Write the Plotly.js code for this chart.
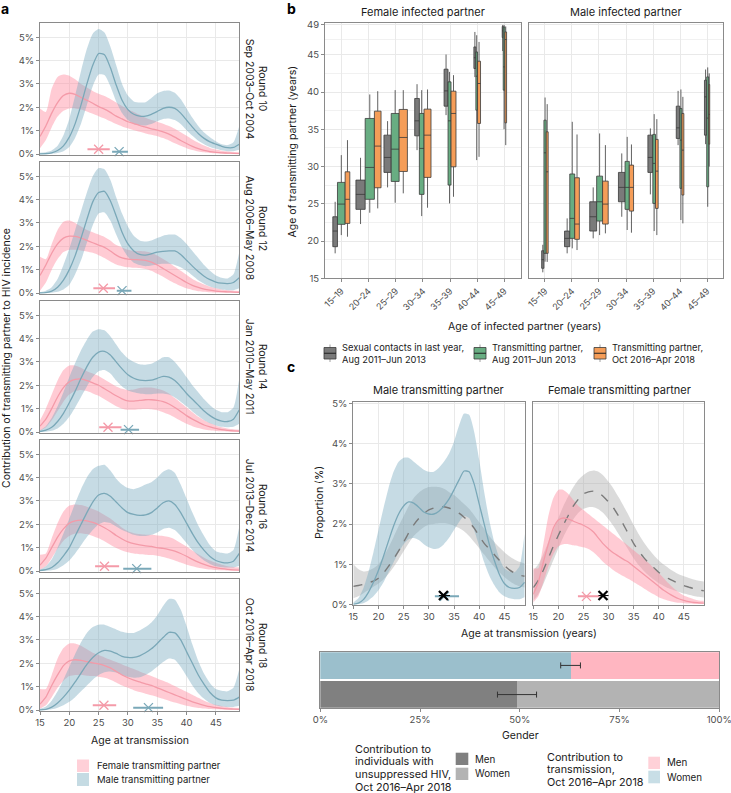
<!DOCTYPE html>
<html><head><meta charset="utf-8">
<script src="https://cdn.plot.ly/plotly-3.0.1.min.js"></script>
<style>html,body{margin:0;padding:0;background:#fff}</style>
</head><body><div id="chart" style="width:731px;height:793px"></div>
<script>
// ---------------- DATA ----------------
const AGES=[15,16,17,18,19,20,21,22,23,24,25,26,27,28,29,30,31,32,33,34,35,36,37,38,39,40,41,42,43,44,45,46,47,48,49];
const ROUNDS=['Round 10','Round 12','Round 14','Round 16','Round 18'];
const PERIODS=['Sep 2003–Oct 2004','Aug 2006–May 2008','Jan 2010–May 2011','Jul 2013–Dec 2014','Oct 2016–Apr 2018'];

// Panel a: contribution (%) by age, female (F) and male (M) transmitting partners
const r10F_lo=[0.25,0.6,1.15,1.6,1.85,1.95,1.95,1.9,1.82,1.72,1.62,1.52,1.4,1.28,1.18,1.1,1.02,0.95,0.88,0.82,0.76,0.68,0.58,0.46,0.35,0.25,0.17,0.11,0.07,0.04,0.03,0.02,0.01,0.01,0.01];
const r10F_mid=[0.75,1.2,1.75,2.2,2.5,2.6,2.55,2.42,2.3,2.17,2.03,1.92,1.78,1.62,1.5,1.38,1.3,1.22,1.15,1.08,1.02,0.95,0.85,0.72,0.58,0.45,0.33,0.23,0.15,0.1,0.07,0.05,0.04,0.03,0.02];
const r10F_hi=[1.95,1.8,2.8,3.3,3.4,3.35,3.2,3.0,2.85,2.7,2.58,2.48,2.35,2.2,2.05,1.9,1.8,1.68,1.55,1.45,1.38,1.3,1.2,1.08,0.93,0.78,0.62,0.48,0.36,0.26,0.19,0.14,0.11,0.09,0.08];
const r10M_lo=[0,0,0.01,0.04,0.12,0.3,0.7,1.3,2.1,2.9,3.4,3.38,2.9,2.25,1.75,1.45,1.28,1.22,1.22,1.28,1.4,1.5,1.52,1.45,1.28,1.02,0.78,0.57,0.42,0.3,0.22,0.16,0.12,0.12,0.18];
const r10M_mid=[0,0.01,0.05,0.15,0.35,0.72,1.3,2.1,3.0,3.8,4.3,4.25,3.7,2.95,2.3,1.9,1.7,1.62,1.62,1.7,1.82,1.95,2.0,1.95,1.75,1.45,1.15,0.88,0.67,0.52,0.42,0.33,0.27,0.28,0.42];
const r10M_hi=[0.05,0.08,0.15,0.35,0.8,1.5,2.5,3.55,4.5,5.15,5.35,5.2,4.6,3.8,3.0,2.5,2.25,2.2,2.22,2.4,2.6,2.7,2.72,2.62,2.35,1.95,1.55,1.2,0.92,0.72,0.55,0.42,0.38,0.5,1.2];

const r12F_lo=[0.1,0.45,1.0,1.45,1.75,1.85,1.85,1.82,1.78,1.72,1.62,1.5,1.35,1.22,1.15,1.1,1.08,1.07,1.03,0.95,0.82,0.7,0.55,0.42,0.3,0.2,0.13,0.08,0.05,0.03,0.02,0.02,0.01,0.01,0.01];
const r12F_mid=[0.75,1.2,1.7,2.1,2.35,2.43,2.42,2.35,2.25,2.15,2.05,1.95,1.8,1.62,1.5,1.45,1.43,1.42,1.4,1.32,1.2,1.05,0.9,0.75,0.6,0.45,0.33,0.24,0.17,0.12,0.08,0.06,0.05,0.04,0.03];
const r12F_hi=[1.55,1.45,2.1,2.7,3.05,3.1,3.0,2.85,2.7,2.6,2.5,2.4,2.25,2.05,1.95,1.85,1.8,1.8,1.78,1.72,1.6,1.45,1.3,1.12,0.95,0.78,0.6,0.47,0.36,0.27,0.2,0.15,0.12,0.1,0.09];
const r12M_lo=[0,0,0.01,0.05,0.15,0.35,0.8,1.4,2.15,2.9,3.4,3.45,3.1,2.5,1.95,1.55,1.3,1.2,1.15,1.18,1.22,1.25,1.25,1.2,1.1,0.95,0.75,0.55,0.4,0.28,0.2,0.15,0.12,0.12,0.2];
const r12M_mid=[0,0.02,0.08,0.25,0.55,1.0,1.6,2.35,3.15,3.9,4.3,4.35,3.95,3.3,2.6,2.1,1.8,1.65,1.62,1.68,1.75,1.78,1.8,1.8,1.65,1.4,1.15,0.92,0.72,0.57,0.47,0.42,0.4,0.45,0.65];
const r12M_hi=[0.03,0.1,0.25,0.6,1.2,1.9,2.7,3.5,4.3,5.0,5.35,5.3,4.85,4.1,3.4,2.85,2.45,2.25,2.2,2.25,2.35,2.45,2.5,2.5,2.35,2.1,1.8,1.5,1.2,0.95,0.75,0.65,0.62,0.8,1.75];

const r14F_lo=[0.05,0.2,0.5,0.9,1.3,1.6,1.75,1.8,1.75,1.65,1.55,1.4,1.25,1.1,1.0,0.95,0.95,0.97,0.98,0.97,0.93,0.85,0.75,0.62,0.48,0.35,0.25,0.17,0.11,0.07,0.04,0.03,0.02,0.01,0.01];
const r14F_mid=[0.25,0.55,1.0,1.5,1.9,2.15,2.25,2.27,2.2,2.1,2.0,1.85,1.7,1.55,1.42,1.33,1.32,1.35,1.38,1.38,1.35,1.3,1.2,1.05,0.88,0.7,0.55,0.42,0.3,0.22,0.15,0.1,0.07,0.05,0.04];
const r14F_hi=[0.5,1.0,1.6,2.2,2.65,2.85,2.85,2.75,2.6,2.5,2.4,2.25,2.1,1.95,1.85,1.8,1.82,1.88,1.9,1.9,1.85,1.78,1.65,1.45,1.25,1.05,0.85,0.65,0.5,0.38,0.28,0.2,0.15,0.12,0.1];
const r14M_lo=[0,0.01,0.05,0.15,0.35,0.65,1.05,1.5,1.95,2.35,2.6,2.65,2.5,2.2,1.95,1.78,1.7,1.65,1.62,1.62,1.65,1.65,1.6,1.48,1.3,1.1,0.88,0.68,0.5,0.37,0.28,0.22,0.2,0.22,0.35];
const r14M_mid=[0.02,0.08,0.2,0.45,0.8,1.25,1.75,2.3,2.8,3.2,3.42,3.45,3.3,3.0,2.7,2.45,2.3,2.22,2.2,2.22,2.3,2.38,2.35,2.2,1.95,1.65,1.4,1.15,0.9,0.7,0.55,0.47,0.45,0.55,0.95];
const r14M_hi=[0.08,0.25,0.6,1.1,1.7,2.35,2.95,3.5,3.95,4.3,4.4,4.35,4.1,3.75,3.4,3.15,3.0,2.9,2.88,2.92,3.05,3.2,3.2,3.0,2.7,2.35,2.0,1.7,1.4,1.15,0.95,0.85,0.85,1.05,2.3];

const r16F_lo=[0.05,0.2,0.55,0.95,1.3,1.5,1.6,1.62,1.58,1.5,1.4,1.27,1.12,0.98,0.88,0.8,0.75,0.72,0.7,0.68,0.65,0.6,0.53,0.45,0.36,0.27,0.2,0.14,0.1,0.06,0.04,0.03,0.02,0.01,0.01];
const r16F_mid=[0.25,0.55,1.0,1.45,1.8,2.05,2.15,2.18,2.15,2.08,1.98,1.85,1.7,1.52,1.37,1.25,1.17,1.12,1.08,1.05,1.0,0.97,0.92,0.85,0.75,0.63,0.5,0.38,0.28,0.2,0.14,0.1,0.07,0.05,0.04];
const r16F_hi=[0.7,0.75,1.4,2.05,2.55,2.8,2.85,2.82,2.75,2.65,2.55,2.4,2.25,2.05,1.85,1.7,1.62,1.58,1.55,1.55,1.52,1.5,1.45,1.35,1.2,1.05,0.88,0.72,0.57,0.45,0.35,0.27,0.2,0.17,0.15];
const r16M_lo=[0,0.01,0.03,0.1,0.25,0.45,0.75,1.1,1.45,1.75,2.0,2.1,2.05,1.9,1.75,1.65,1.55,1.5,1.5,1.55,1.65,1.8,1.85,1.75,1.5,1.2,0.9,0.65,0.45,0.3,0.2,0.16,0.15,0.15,0.22];
const r16M_mid=[0.02,0.06,0.15,0.35,0.65,1.0,1.5,2.0,2.5,2.95,3.25,3.32,3.2,2.95,2.7,2.5,2.42,2.38,2.4,2.5,2.7,2.92,3.0,2.85,2.5,2.05,1.6,1.2,0.88,0.62,0.45,0.37,0.35,0.42,0.75];
const r16M_hi=[0.05,0.2,0.5,1.0,1.6,2.25,2.9,3.5,4.0,4.35,4.5,4.55,4.3,3.95,3.7,3.55,3.5,3.58,3.7,3.8,4.0,4.25,4.35,4.2,3.7,3.1,2.5,1.95,1.5,1.1,0.85,0.78,0.75,0.9,1.9];

const r18F_lo=[0.05,0.2,0.55,0.95,1.25,1.45,1.5,1.5,1.47,1.45,1.42,1.38,1.3,1.18,1.05,0.95,0.85,0.77,0.7,0.63,0.56,0.48,0.4,0.32,0.25,0.18,0.13,0.09,0.06,0.04,0.03,0.02,0.01,0.01,0.01];
const r18F_mid=[0.25,0.55,1.05,1.5,1.9,2.1,2.15,2.12,2.07,2.02,1.97,1.9,1.8,1.65,1.5,1.38,1.28,1.2,1.12,1.05,0.95,0.85,0.75,0.65,0.55,0.45,0.35,0.27,0.2,0.14,0.1,0.07,0.05,0.04,0.03];
const r18F_hi=[0.9,0.9,1.5,2.2,2.65,2.85,2.85,2.75,2.6,2.45,2.35,2.25,2.15,2.05,1.95,1.85,1.75,1.65,1.55,1.45,1.35,1.25,1.15,1.03,0.9,0.78,0.65,0.52,0.4,0.3,0.22,0.17,0.13,0.1,0.09];
const r18M_lo=[0,0.01,0.03,0.1,0.2,0.35,0.55,0.8,1.05,1.3,1.5,1.62,1.65,1.6,1.5,1.42,1.38,1.4,1.5,1.65,1.85,2.05,2.2,2.15,1.85,1.45,1.05,0.72,0.48,0.3,0.2,0.15,0.13,0.13,0.18];
const r18M_mid=[0,0.03,0.12,0.3,0.55,0.85,1.2,1.58,1.95,2.25,2.45,2.55,2.52,2.42,2.3,2.25,2.25,2.32,2.45,2.62,2.85,3.1,3.32,3.3,3.0,2.5,2.0,1.5,1.1,0.75,0.52,0.42,0.4,0.42,0.55];
const r18M_hi=[0.05,0.15,0.4,0.8,1.3,1.85,2.4,2.9,3.3,3.55,3.65,3.65,3.55,3.45,3.35,3.3,3.3,3.4,3.55,3.75,4.05,4.45,4.75,4.72,4.3,3.6,2.8,2.1,1.55,1.15,0.9,0.82,0.8,0.95,1.75];

// median age at transmission (x) with 95% interval, per round
const medAgeF=[25.0,25.8,26.6,26.0,25.9];
const medAgeF_lo=[23.1,24.1,25.1,24.4,24.0];
const medAgeF_hi=[26.9,27.8,28.9,28.5,28.0];
const medAgeM=[28.5,29.0,30.1,31.5,33.5];
const medAgeM_lo=[27.3,28.1,28.75,29.2,30.9];
const medAgeM_hi=[30.0,30.6,31.9,34.0,36.0];

// Panel b: box statistics by age group of infected partner
const AGE_GROUPS=['15–19','20–24','25–29','30–34','35–39','40–44','45–49'];
const SERIES_NAMES=['Sexual contacts in last year,<br>Aug 2011–Jun 2013','Transmitting partner,<br>Aug 2011–Jun 2013','Transmitting partner,<br>Oct 2016–Apr 2018'];
// female infected partner
const fContact_lo=[18.35,22.28,27.2,32.2,36.9,42.0,45.5];
const fContact_q1=[19.24,24.25,29.21,34.12,38.1,43.15,47.3];
const fContact_med=[21.34,26.26,31.22,36.13,40.15,44.6,48.2];
const fContact_q3=[23.26,28.18,34.21,39.13,43.06,46.05,48.8];
const fContact_hi=[25.27,31.17,36.09,41.05,45.03,48.06,49.0];
const fContact_n=[255,1000,616,255,185,46,12];
const fTrans13_lo=[20.8,23.8,25.14,23.35,25.05,30.86,35.0];
const fTrans13_q1=[22.24,25.6,28.0,26.26,27.51,37.56,40.25];
const fTrans13_med=[24.96,29.88,32.33,32.43,36.13,42.12,43.37];
const fTrans13_q3=[27.87,36.45,37.12,37.12,41.36,45.38,48.73];
const fTrans13_hi=[31.53,39.67,40.25,40.25,42.7,47.62,49.0];
const fTrans13_n=[686,1000,740,255,104,33,33];
const fTrans18_lo=[20.58,24.38,26.4,24.47,25.94,31.3,32.87];
const fTrans18_q1=[22.37,27.15,29.34,28.54,29.96,35.78,35.86];
const fTrans18_med=[25.6,32.74,33.9,34.21,37.12,41.14,47.04];
const fTrans18_q3=[29.29,37.43,37.66,37.7,40.11,44.13,48.06];
const fTrans18_hi=[33.54,40.11,40.25,40.34,42.26,46.72,48.8];
const fTrans18_n=[255,519,797,567,289,104,33];
// male infected partner
const mContact_lo=[15.8,18.35,20.36,23.26,26.26,32.87,33.0];
const mContact_q1=[16.34,19.24,21.34,25.27,29.21,33.77,34.21];
const mContact_med=[17.5,20.36,23.26,27.2,31.22,35.19,39.35];
const mContact_q3=[18.7,21.34,25.27,29.21,34.21,38.1,41.58];
const mContact_hi=[19.5,23.04,27.2,31.76,35.11,40.15,43.02];
const mContact_n=[61,325,567,519,289,158,61];
const mTrans13_lo=[17.23,19.02,20.8,21.48,21.34,22.82,24.6];
const mTrans13_q1=[18.35,20.36,22.68,24.25,25.05,27.07,27.28];
const mTrans13_med=[31.84,23.04,25.27,27.2,30.42,33.54,36.5];
const mTrans13_q3=[36.22,29.0,28.71,30.69,34.31,37.79,42.03];
const mTrans13_hi=[39.26,36.0,34.44,33.98,37.03,40.34,43.3];
const mTrans13_n=[61,289,416,214,84,46,46];
const mTrans18_lo=[17.2,18.79,21.03,21.12,20.8,22.37,30.0];
const mTrans18_q1=[18.35,20.23,22.28,24.02,24.38,26.17,33.0];
const mTrans18_med=[29.29,22.28,24.96,27.2,29.38,32.2,37.0];
const mTrans18_q3=[34.66,28.49,28.04,30.19,33.64,37.12,41.0];
const mTrans18_hi=[38.37,34.3,32.87,32.96,36.36,39.35,42.5];
const mTrans18_n=[46,255,376,214,84,46,12];

// Panel c: unsuppressed-HIV age distributions (grey), transmitting = round 18 curves
const unsupM_lo=[0.15,0.2,0.28,0.36,0.44,0.52,0.62,0.76,0.93,1.12,1.32,1.52,1.7,1.82,1.92,1.98,2.0,2.02,2.02,2.0,1.96,1.9,1.82,1.7,1.55,1.4,1.24,1.08,0.93,0.8,0.68,0.58,0.5,0.45,0.42];
const unsupM_mid=[0.45,0.47,0.5,0.54,0.58,0.65,0.78,0.95,1.13,1.33,1.55,1.78,1.98,2.14,2.26,2.35,2.4,2.43,2.43,2.4,2.35,2.27,2.17,2.05,1.9,1.7,1.52,1.38,1.24,1.1,0.97,0.86,0.78,0.73,0.7];
const unsupM_hi=[1.0,0.88,0.82,0.84,0.9,1.0,1.18,1.42,1.68,1.95,2.2,2.45,2.65,2.78,2.87,2.92,2.93,2.92,2.88,2.8,2.72,2.62,2.5,2.38,2.22,2.05,1.88,1.7,1.55,1.42,1.3,1.2,1.12,1.06,1.02];
const unsupF_lo=[0.1,0.25,0.5,0.8,1.1,1.4,1.68,1.92,2.12,2.28,2.38,2.42,2.42,2.37,2.27,2.12,1.95,1.75,1.55,1.35,1.15,0.98,0.84,0.72,0.62,0.53,0.46,0.4,0.35,0.31,0.27,0.24,0.21,0.19,0.17];
const unsupF_mid=[0.42,0.6,0.85,1.15,1.45,1.72,1.98,2.22,2.45,2.62,2.75,2.8,2.82,2.78,2.68,2.55,2.4,2.2,1.98,1.75,1.52,1.33,1.17,1.03,0.92,0.8,0.71,0.64,0.58,0.52,0.47,0.43,0.39,0.36,0.34];
const unsupF_hi=[0.85,1.0,1.25,1.55,1.85,2.15,2.45,2.7,2.92,3.1,3.22,3.3,3.33,3.3,3.2,3.05,2.88,2.67,2.45,2.22,1.98,1.75,1.55,1.38,1.23,1.1,0.99,0.9,0.82,0.75,0.7,0.66,0.62,0.59,0.57];
// median ages [transmitting, unsuppressed] with intervals
const cMedM=[33.1,32.9], cMedM_lo=[31.2,32.0], cMedM_hi=[36.0,34.2];
const cMedF=[25.6,28.9], cMedF_lo=[23.9,28.0], cMedF_hi=[28.2,30.0];

// Gender bars (%)
const transShare=[62.75,37.25];      // blue, pink
const transShareCI=[60.25,65.2];
const unsupShare=[49.3,50.7];        // men, women
const unsupShareCI=[44.4,54.2];

// ---------------- LAYOUT HELPERS ----------------
const W=731,H=793;
const fx=v=>v/W, fy=v=>1-v/H;
const FONT='Inter, "Liberation Sans", Arial, sans-serif';
const TXT='#1a1a1a';
const PINK_FILL='rgba(255,140,160,0.45)', PINK_LINE='#f49aa8';
const BLUE_FILL='rgba(120,170,190,0.42)', BLUE_LINE='#7aa8b8';
const GREY_FILL='rgba(165,165,165,0.4)';

const layout={width:W,height:H,margin:{l:0,r:0,t:0,b:0},paper_bgcolor:'#fff',plot_bgcolor:'#fff',
  showlegend:false,boxmode:'overlay',barmode:'stack',annotations:[],shapes:[],font:{family:FONT,color:TXT}};
function base(){return {showline:true,mirror:true,linecolor:'#8a8a8a',linewidth:1,showgrid:true,gridcolor:'#e9e9e9',gridwidth:1,
  zeroline:false,ticks:'outside',ticklen:3,tickwidth:1,tickcolor:'#8a8a8a',tickfont:{family:FONT,size:9.5,color:'#4d4d4d'},fixedrange:true,
  ticklabeloverflow:'allow'};}
const sfx=i=>i===1?'':String(i);
function setAxes(i,x0,x1,y0,y1,xo,yo){
  const s=sfx(i);
  layout['xaxis'+s]=Object.assign(base(),{domain:[fx(x0),fx(x1)],anchor:'y'+s},xo);
  layout['yaxis'+s]=Object.assign(base(),{domain:[fy(y1),fy(y0)],anchor:'x'+s},yo);
}
function T(text,x,y,o){layout.annotations.push(Object.assign({text:text,x:fx(x),y:fy(y),xref:'paper',yref:'paper',showarrow:false,
  xanchor:'center',yanchor:'middle',font:{family:FONT,size:10.5,color:TXT}},o||{}));}
function R(x0,y0,x1,y1,fill,line){layout.shapes.push({type:'rect',xref:'paper',yref:'paper',x0:fx(x0),x1:fx(x1),y0:fy(y1),y1:fy(y0),
  fillcolor:fill,line:line||{width:0}});}
function L(x0,y0,x1,y1,color,w){layout.shapes.push({type:'line',xref:'paper',yref:'paper',x0:fx(x0),x1:fx(x1),y0:fy(y0),y1:fy(y1),line:{color:color,width:w}});}

const traces=[];
function band(ax,lo,hi,fill){
  const s=sfx(ax);
  traces.push({type:'scatter',x:AGES,y:lo,mode:'lines',line:{width:0,shape:'spline',smoothing:0.6},xaxis:'x'+s,yaxis:'y'+s,hoverinfo:'skip'});
  traces.push({type:'scatter',x:AGES,y:hi,mode:'lines',line:{width:0,shape:'spline',smoothing:0.6},fill:'tonexty',fillcolor:fill,xaxis:'x'+s,yaxis:'y'+s,hoverinfo:'skip'});
}
function curve(ax,y,color,dash,w){
  const s=sfx(ax);
  traces.push({type:'scatter',x:AGES,y:y,mode:'lines',line:{width:w||1.3,color:color,dash:dash||'solid',shape:'spline',smoothing:0.6},xaxis:'x'+s,yaxis:'y'+s,hoverinfo:'skip'});
}
function mark(ax,med,lo,hi,yv,color,lw,barw){
  const s=sfx(ax);
  traces.push({type:'scatter',x:[med],y:[yv],mode:'markers',marker:{symbol:'x-thin',size:9,color:color,line:{width:lw,color:color}},
    error_x:{type:'data',symmetric:false,array:[hi-med],arrayminus:[med-lo],color:color,thickness:barw,width:0},
    xaxis:'x'+s,yaxis:'y'+s,hoverinfo:'skip',cliponaxis:false});
}

// ---------------- PANEL a ----------------
const A_F=[[r10F_lo,r10F_mid,r10F_hi],[r12F_lo,r12F_mid,r12F_hi],[r14F_lo,r14F_mid,r14F_hi],[r16F_lo,r16F_mid,r16F_hi],[r18F_lo,r18F_mid,r18F_hi]];
const A_M=[[r10M_lo,r10M_mid,r10M_hi],[r12M_lo,r12M_mid,r12M_hi],[r14M_lo,r14M_mid,r14M_hi],[r16M_lo,r16M_mid,r16M_hi],[r18M_lo,r18M_mid,r18M_hi]];
const aTop=22.7, aH=132, aGap=7;
for(let r=0;r<5;r++){
  const ax=r+1, t=aTop+r*(aH+aGap), b=t+aH, last=r===4;
  setAxes(ax,40,239.3,t,b,
    {range:[15,49],tickvals:[15,20,25,30,35,40,45],showticklabels:last,ticks:last?'outside':''},
    {range:[-0.03,5.62],tickvals:[0,1,2,3,4,5],ticktext:['0%','1%','2%','3%','4%','5%']});
  band(ax,A_F[r][0],A_F[r][2],PINK_FILL);
  band(ax,A_M[r][0],A_M[r][2],BLUE_FILL);
  curve(ax,A_F[r][1],PINK_LINE);
  curve(ax,A_M[r][1],BLUE_LINE);
  mark(ax,medAgeF[r],medAgeF_lo[r],medAgeF_hi[r],0.2,PINK_LINE,1.3,2);
  mark(ax,medAgeM[r],medAgeM_lo[r],medAgeM_hi[r],0.1,BLUE_LINE,1.3,2);
  const cy=(t+b)/2;
  T(PERIODS[r],249,cy,{textangle:90,font:{family:FONT,size:10.5,color:TXT}});
  T(ROUNDS[r],262,cy,{textangle:90,font:{family:FONT,size:10.5,color:TXT}});
}
T('Contribution of transmitting partner to HIV incidence',6,358,{textangle:-90,font:{family:FONT,size:10.5,color:TXT}});
T('Age at transmission',140,740,{font:{family:FONT,size:10.5,color:TXT}});
R(77,759.5,89,772,'#ffd0d8');
R(77,773,89,786,'#c5dbe3');
T('Female transmitting partner',95,765.5,{xanchor:'left',font:{family:FONT,size:9.5,color:TXT}});
T('Male transmitting partner',95,779.5,{xanchor:'left',font:{family:FONT,size:9.5,color:TXT}});
T('<b>a</b>',5,9,{font:{family:FONT,size:14,color:'#000'}});

// ---------------- PANEL b ----------------
const BOX_COLORS=['#7a7a7a','#68ad82','#f59d58'];
const B_F=[[fContact_lo,fContact_q1,fContact_med,fContact_q3,fContact_hi,fContact_n],
           [fTrans13_lo,fTrans13_q1,fTrans13_med,fTrans13_q3,fTrans13_hi,fTrans13_n],
           [fTrans18_lo,fTrans18_q1,fTrans18_med,fTrans18_q3,fTrans18_hi,fTrans18_n]];
const B_M=[[mContact_lo,mContact_q1,mContact_med,mContact_q3,mContact_hi,mContact_n],
           [mTrans13_lo,mTrans13_q1,mTrans13_med,mTrans13_q3,mTrans13_hi,mTrans13_n],
           [mTrans18_lo,mTrans18_q1,mTrans18_med,mTrans18_q3,mTrans18_hi,mTrans18_n]];
const NMAX=1000, BW=0.34;
function boxPanel(ax,B){
  const s=sfx(ax);
  for(let c=0;c<AGE_GROUPS.length;c++){
    const ws=B.map(S=>BW*Math.sqrt(S[5][c]/NMAX));
    const tot=ws.reduce((a,b)=>a+b,0);
    let start=c-tot/2;
    B.forEach((S,k)=>{
      const w=ws[k], xc=start+w/2; start+=w;
      traces.push({type:'box',x:[xc],lowerfence:[S[0][c]],q1:[S[1][c]],median:[S[2][c]],q3:[S[3][c]],upperfence:[S[4][c]],
        width:w,fillcolor:BOX_COLORS[k],line:{color:'#3a3a3a',width:0.8},whiskerwidth:0,boxpoints:false,
        xaxis:'x'+s,yaxis:'y'+s,hoverinfo:'skip'});
    });
  }
}
const bY={range:[15,49.3],tickvals:[15,20,25,30,35,40,45,49],
  minor:{tickvals:[17.5,22.5,27.5,32.5,37.5,42.5,47],showgrid:true,gridcolor:'#f1f1f1',ticks:''}};
const bX={range:[-0.6,6.6],tickvals:[0,1,2,3,4,5,6],ticktext:AGE_GROUPS,tickangle:-45,tickfont:{family:FONT,size:9,color:'#4d4d4d'}};
setAxes(6,325,520.7,22.7,278.3,bX,bY);
setAxes(7,528.7,723.3,22.7,278.3,bX,Object.assign({},bY,{showticklabels:false,ticks:''}));
boxPanel(6,B_F);
boxPanel(7,B_M);
T('<b>b</b>',291,9,{font:{family:FONT,size:14,color:'#000'}});
T('Female infected partner',422.8,12,{font:{family:FONT,size:11,color:TXT}});
T('Male infected partner',626,12,{font:{family:FONT,size:11,color:TXT}});
T('Age of transmitting partner (years)',292.5,152,{textangle:-90,font:{family:FONT,size:10.5,color:TXT}});
T('Age of infected partner (years)',524,326,{font:{family:FONT,size:10.5,color:TXT}});
[324,474,594].forEach((sx,k)=>{
  L(sx+6,344.5,sx+6,362,'#8a8a8a',0.8);
  R(sx,347.5,sx+12,359,BOX_COLORS[k],{color:'#3a3a3a',width:0.8});
  L(sx,353.25,sx+12,353.25,'#222',1);
  T(SERIES_NAMES[k],sx+16.5,353.5,{xanchor:'left',align:'left',borderpad:0,font:{family:FONT,size:9.3,color:TXT}});
});

// ---------------- PANEL c ----------------
const cX={range:[15,49.1],tickvals:[15,20,25,30,35,40,45]};
const cY={range:[-0.01,5.05],tickvals:[0,1,2,3,4,5],ticktext:['0%','1%','2%','3%','4%','5%']};
setAxes(8,353.3,525,401.5,604.8,cX,cY);
setAxes(9,533.3,704.3,401.5,604.8,cX,Object.assign({},cY,{showticklabels:false,ticks:''}));
band(8,unsupM_lo,unsupM_hi,GREY_FILL);
band(8,r18M_lo,r18M_hi,BLUE_FILL);
curve(8,unsupM_mid,'#7a7a7a','dash',1.4);
curve(8,r18M_mid,BLUE_LINE);
mark(8,cMedM[0],cMedM_lo[0],cMedM_hi[0],0.2,BLUE_LINE,1.3,2);
mark(8,cMedM[1],cMedM_lo[1],cMedM_hi[1],0.22,'#000',2.2,1);
band(9,unsupF_lo,unsupF_hi,GREY_FILL);
band(9,r18F_lo,r18F_hi,PINK_FILL);
curve(9,unsupF_mid,'#7a7a7a','dash',1.4);
curve(9,r18F_mid,PINK_LINE);
mark(9,cMedF[0],cMedF_lo[0],cMedF_hi[0],0.2,PINK_LINE,1.3,2);
mark(9,cMedF[1],cMedF_lo[1],cMedF_hi[1],0.22,'#000',2.2,1);
T('<b>c</b>',291,366,{font:{family:FONT,size:14,color:'#000'}});
T('Male transmitting partner',439,390,{font:{family:FONT,size:11,color:TXT}});
T('Female transmitting partner',619,390,{font:{family:FONT,size:11,color:TXT}});
T('Proportion (%)',319,503,{textangle:-90,font:{family:FONT,size:10.5,color:TXT}});
T('Age at transmission (years)',529,633,{font:{family:FONT,size:10.5,color:TXT}});

// ---------------- Gender bars ----------------
setAxes(10,320.3,719.3,652.3,707.7,
  {range:[0,100],tickvals:[0,25,50,75,100],ticktext:['0%','25%','50%','75%','100%'],showgrid:false},
  {range:[-0.45,1.45],showticklabels:false,ticks:'',showgrid:false});
traces.push({type:'bar',orientation:'h',y:[1],x:[transShare[0]],width:0.9,marker:{color:'#9bbfcc',line:{width:0}},xaxis:'x10',yaxis:'y10',hoverinfo:'skip'});
traces.push({type:'bar',orientation:'h',y:[1],x:[transShare[1]],width:0.9,marker:{color:'#ffb6c1',line:{width:0}},xaxis:'x10',yaxis:'y10',hoverinfo:'skip'});
traces.push({type:'bar',orientation:'h',y:[0],x:[unsupShare[0]],width:0.9,marker:{color:'#808080',line:{width:0}},xaxis:'x10',yaxis:'y10',hoverinfo:'skip'});
traces.push({type:'bar',orientation:'h',y:[0],x:[unsupShare[1]],width:0.9,marker:{color:'#b3b3b3',line:{width:0}},xaxis:'x10',yaxis:'y10',hoverinfo:'skip'});
// confidence intervals drawn on top of the stacked bars
const EB={color:'#333',thickness:1,width:3};
traces.push({type:'scatter',mode:'markers',x:[transShare[0]],y:[1],marker:{size:2,color:'rgba(0,0,0,0)'},
  error_x:Object.assign({type:'data',symmetric:false,array:[transShareCI[1]-transShare[0]],arrayminus:[transShare[0]-transShareCI[0]]},EB),
  xaxis:'x10',yaxis:'y10',hoverinfo:'skip'});
traces.push({type:'scatter',mode:'markers',x:[unsupShare[0]],y:[0],marker:{size:2,color:'rgba(0,0,0,0)'},
  error_x:Object.assign({type:'data',symmetric:false,array:[unsupShareCI[1]-unsupShare[0]],arrayminus:[unsupShare[0]-unsupShareCI[0]]},EB),
  xaxis:'x10',yaxis:'y10',hoverinfo:'skip'});
T('Gender',520,735,{font:{family:FONT,size:10.5,color:TXT}});
// bar legends
const LF={family:FONT,size:10.8,color:TXT};
['Contribution to','individuals with','unsuppressed HIV,','Oct 2016–Apr 2018'].forEach((s,i)=>T(s,352.7,749+i*12.7,{xanchor:'left',font:LF}));
R(455.7,752.7,468.3,765,'#808080');
R(455.7,767.7,468.3,780,'#b3b3b3');
T('Men',473.3,759,{xanchor:'left',font:{family:FONT,size:9.8,color:TXT}});
T('Women',473.3,773.3,{xanchor:'left',font:{family:FONT,size:9.8,color:TXT}});
['Contribution to','transmission,','Oct 2016–Apr 2018'].forEach((s,i)=>T(s,545,757.3+i*12.5,{xanchor:'left',font:LF}));
R(648.3,756.7,660,769,'#ffd1d8');
R(648.3,770.7,660,783.3,'#c8dee6');
T('Men',665,762.7,{xanchor:'left',font:{family:FONT,size:9.8,color:TXT}});
T('Women',665,777,{xanchor:'left',font:{family:FONT,size:9.8,color:TXT}});

Plotly.newPlot('chart',traces,layout,{staticPlot:true,displayModeBar:false});
</script></body></html>
